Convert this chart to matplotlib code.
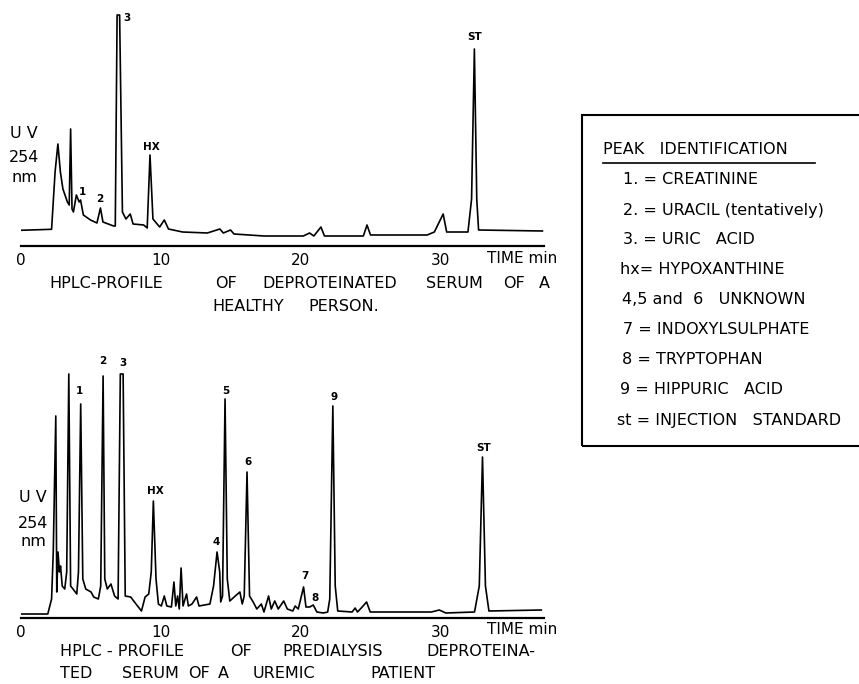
import matplotlib.pyplot as plt
from matplotlib.patches import Rectangle
from matplotlib.lines import Line2D

W, H = 859, 684

# HPLC trace, healthy person (time in min, UV signal in chart units)
healthy_time = [0.0, 2.22, 2.47, 2.67, 2.85, 3.03, 3.35, 3.48, 3.58, 3.68, 3.78, 3.99,
                4.19, 4.29, 4.49, 5.0, 5.46, 5.71, 5.89, 6.65, 6.77, 6.90, 7.08, 7.28,
                7.53, 7.84, 8.04, 8.80, 9.05, 9.25, 9.46, 9.94, 10.27, 10.57, 11.58,
                13.35, 14.24, 14.49, 15.0, 15.25, 17.4, 20.2, 20.65, 20.95, 21.46,
                21.71, 24.49, 24.75, 25.0, 29.05, 29.56, 30.19, 30.44, 31.96, 32.22,
                32.42, 32.59, 32.72, 37.28]
healthy_signal = [15.7, 16.7, 74, 102, 74, 57, 44, 41, 117, 37, 34, 51,
                  44, 46, 31, 26, 23, 38, 24, 20, 20, 231, 231, 34,
                  27, 32, 22, 21, 18, 91, 27, 19, 26, 17, 14,
                  13, 17, 13, 16, 12, 10, 10, 13, 10, 19,
                  10, 10, 21, 11, 11, 14, 32, 14, 14, 47,
                  197, 47, 16, 15]
healthy_peaks = [("1", 4.39, 54), ("2", 5.68, 47), ("3", 7.58, 228),
                 ("HX", 9.35, 99), ("ST", 32.47, 209)]

# HPLC trace, uremic patient
uremic_time = [0.0, 1.95, 2.22, 2.34, 2.52, 2.59, 2.68, 2.78, 2.86, 2.98, 3.16, 3.30,
               3.45, 3.58, 3.75, 4.02, 4.14, 4.30, 4.45, 4.66, 5.04, 5.23, 5.56, 5.73,
               5.90, 6.02, 6.20, 6.46, 6.72, 6.97, 7.13, 7.33, 7.48, 7.87, 8.25, 8.64,
               8.90, 9.16, 9.34, 9.49, 9.68, 9.85, 10.06, 10.27, 10.45, 10.78, 10.96,
               11.09, 11.22, 11.34, 11.47, 11.61, 11.86, 11.99, 12.25, 12.58, 12.75,
               13.53, 13.79, 14.04, 14.23, 14.30, 14.43, 14.61, 14.77, 14.95, 15.34,
               15.67, 15.84, 15.98, 16.18, 16.36, 16.62, 16.88, 17.20, 17.39, 17.72,
               17.91, 18.16, 18.41, 18.80, 19.06, 19.45, 19.62, 19.84, 20.22, 20.39,
               20.66, 20.91, 21.17, 21.63, 21.94, 22.09, 22.31, 22.48, 22.66, 23.69,
               23.90, 24.07, 24.34, 24.72, 24.98, 26.78, 29.35, 29.91, 30.38, 32.43,
               32.77, 33.00, 33.21, 33.46, 37.2]
uremic_signal = [4, 4, 19, 66, 202, 26, 66, 46, 52, 32, 29, 46,
                 244, 32, 29, 24, 46, 214, 39, 29, 26, 21, 19, 32,
                 242, 39, 29, 34, 22, 19, 244, 244, 22, 21, 14, 7,
                 21, 24, 46, 117, 39, 14, 12, 22, 12, 11, 36,
                 12, 22, 9, 50, 12, 24, 12, 14, 21, 12,
                 14, 32, 66, 46, 16, 22, 219, 39, 17, 22,
                 26, 14, 22, 146, 22, 16, 9, 14, 6, 22,
                 9, 17, 9, 17, 9, 7, 12, 9, 31, 11,
                 11, 13, 6, 5, 6, 19, 212, 32, 7, 6,
                 10, 6, 10, 16, 6, 6, 6, 8, 5, 6,
                 32, 161, 32, 7, 8]
uremic_peaks = [("1", 4.21, 227), ("2", 5.91, 257), ("3", 7.30, 255),
                ("HX", 9.63, 127), ("4", 13.95, 76), ("5", 14.64, 227),
                ("6", 16.27, 156), ("7", 20.32, 42), ("8", 21.04, 20),
                ("9", 22.39, 221), ("ST", 33.08, 170)]

tick_values = [0, 10, 20, 30]

healthy_caption = [[("HPLC-PROFILE", 49), ("OF", 215), ("DEPROTEINATED", 262),
                    ("SERUM", 426), ("OF", 503), ("A", 539)],
                   [("HEALTHY", 212), ("PERSON.", 308)]]
uremic_caption = [[("HPLC - PROFILE", 60), ("OF", 230), ("PREDIALYSIS", 282),
                   ("DEPROTEINA-", 426)],
                  [("TED", 60), ("SERUM", 122), ("OF", 188), ("A", 218),
                   ("UREMIC", 253), ("PATIENT", 370)]]

legend_title = "PEAK   IDENTIFICATION"
legend_entries = ["1. = CREATININE", "2. = URACIL (tentatively)", "3. = URIC   ACID",
                  "hx= HYPOXANTHINE", "4,5 and  6   UNKNOWN", "7 = INDOXYLSULPHATE",
                  "8 = TRYPTOPHAN", "9 = HIPPURIC   ACID", "st = INJECTION   STANDARD"]
legend_x = [623, 623, 623, 620, 622, 623, 622, 620, 617]

plt.rcParams['font.family'] = ['DejaVu Sans']

fig = plt.figure(figsize=(W / 100, H / 100), dpi=100)


def px(x, y):
    return x / W, 1 - y / H


def chromatogram(axis_y, height, t, s, peaks, uv_x, uv_y, caption, cap_y):
    ax = fig.add_axes([20.5 / W, (H - axis_y) / H, 37.4 * 14.0 / W, height / H])
    ax.plot(t, s, color='black', lw=1.2)
    ax.set_xlim(0, 37.4)
    ax.set_ylim(0, height)
    for side in ['top', 'right', 'left']:
        ax.spines[side].set_visible(False)
    ax.spines['bottom'].set_linewidth(1.6)
    ax.set_yticks([])
    ax.set_xticks(tick_values)
    ax.set_xticklabels([str(v) for v in tick_values], fontsize=11)
    ax.tick_params(axis='x', length=0, pad=5)
    for name, x, y in peaks:
        ax.text(x, y, name, ha='center', va='center', fontsize=7.5, fontweight='bold')
    fig.text(*px(487, axis_y + 12), "TIME min", fontsize=11, va='center')
    for txt, dy in zip(["U V", "254", "nm"], [0, 25, 44]):
        fig.text(*px(uv_x, uv_y + dy), txt, fontsize=11.5, ha='center', va='center')
    for j, line in enumerate(caption):
        for word, x in line:
            fig.text(*px(x, cap_y + 22 * j), word, fontsize=11.5, va='center')
    return ax


chromatogram(246, 246, healthy_time, healthy_signal, healthy_peaks,
             24, 133, healthy_caption, 284)
chromatogram(618, 288, uremic_time, uremic_signal, uremic_peaks,
             33, 498, uremic_caption, 652)

# peak identification box
x0, y0 = px(582, 446)
fig.patches.append(Rectangle((x0, y0), (864 - 582) / W, (446 - 115) / H,
                             transform=fig.transFigure, fill=False, lw=1.5,
                             edgecolor='black'))
fig.text(*px(603, 150), legend_title, fontsize=11.5, va='center')
xa, ya = px(603, 163)
xb, _ = px(815, 163)
fig.lines.append(Line2D([xa, xb], [ya, ya], transform=fig.transFigure,
                        color='black', lw=1.2))
for i, (txt, x) in enumerate(zip(legend_entries, legend_x)):
    fig.text(*px(x, 180 + 30 * i), txt, fontsize=11.5, va='center')

fig.savefig("out.png", dpi=100)
